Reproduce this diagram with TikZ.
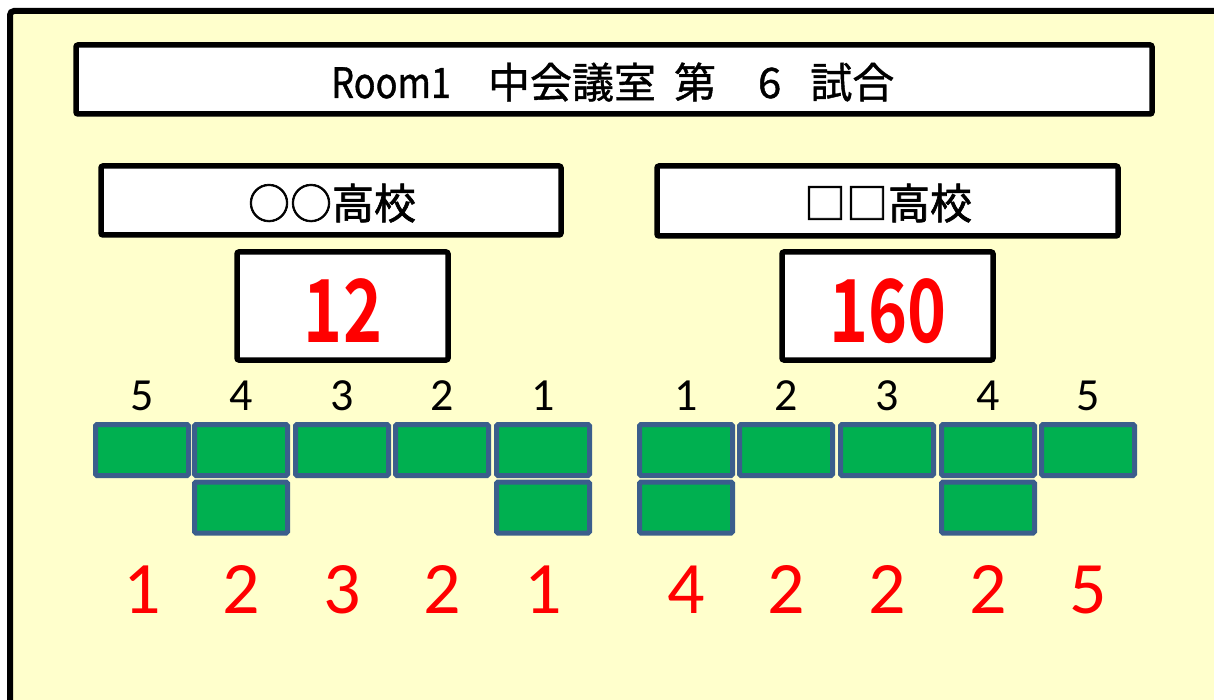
\documentclass[tikz,border=0pt]{standalone}
\usepackage{fontspec}
\setmainfont{Carlito}
\newfontfamily\jp[FakeBold=1]{Noto Sans CJK JP}
\newfontfamily\jpm[FakeBold=1.6]{Noto Sans CJK JP}
\newfontfamily\jpb{Noto Sans CJK JP Bold}
\definecolor{paper}{HTML}{FFFFCC}
\definecolor{seatfill}{HTML}{00B050}
\definecolor{seatline}{HTML}{3B5E8C}
\definecolor{scorered}{HTML}{FF0000}
\tikzset{
  whitebox/.style={draw=black, fill=white, line width=5.5pt, rounded corners=2pt, inner sep=0pt},
  seat/.style={draw=seatline, fill=seatfill, line width=5pt, rounded corners=1.5pt,
    minimum width=93pt, minimum height=51pt, inner sep=0pt},
  seatno/.style={anchor=base, font=\fontsize{46}{46}\selectfont, text=black, inner sep=0pt},
  pts/.style={anchor=base, font=\fontsize{74}{74}\selectfont, text=scorered, inner sep=0pt},
  jptext/.style={anchor=base, font=\jp\fontsize{42}{42}\selectfont, inner sep=0pt},
  schooltext/.style={anchor=base, font=\jpm\fontsize{42}{42}\selectfont, inner sep=0pt},
  total/.style={anchor=base, font=\jpb\fontsize{87}{87}\selectfont, text=scorered, inner sep=0pt}
}
\begin{document}
\begin{tikzpicture}[x=1pt,y=-1pt]
\useasboundingbox (0,0) rectangle (1214,700);
\clip (0,0) rectangle (1214,700);
% background frame
\draw[line width=6pt, fill=paper, rounded corners=4pt] (10,11) rectangle (1250,740);
% title
\node[whitebox, minimum width=1076pt, minimum height=69pt] (title) at (614,79.5) {};
\node[jptext, anchor=base west] (titletext) at (331,98) {\scalebox{0.86}[1]{Room1}\hspace{37pt}中会議室\hspace{18pt}第\hspace{42pt}6\hspace{29pt}試合};
% school boxes
\node[whitebox, minimum width=460pt, minimum height=69pt] (schoolA) at (331,200.5) {};
\node[schooltext] (schoolAtext) at (332,219) {○○高校};
\node[whitebox, minimum width=461pt, minimum height=70pt] (schoolB) at (887.5,201) {};
\node[schooltext] (schoolBtext) at (888,219) {□□高校};
% score boxes
\node[whitebox, minimum width=211pt, minimum height=108pt] (scoreA) at (342.5,306) {};
\node[total] (scoreAtext) at (343,342) {\scalebox{0.76}[1]{12}};
\node[whitebox, minimum width=211pt, minimum height=108pt] (scoreB) at (887.5,306) {};
\node[total] (scoreBtext) at (888,342) {\scalebox{0.76}[1]{160}};
% left seats
\foreach \x/\n/\p [count=\i] in {142/5/1, 241/4/2, 342/3/3, 442/2/2, 543/1/1}{
  \node[seatno] (la\i) at (\x,410) {\n};
  \node[seat] (ls\i) at (\x,450) {};
  \node[pts] (lp\i) at (\x,613) {\p};
}
\node[seat] (ls2b) at (241,507.5) {};
\node[seat] (ls5b) at (543,507.5) {};
% right seats
\foreach \x/\n/\p [count=\i] in {686/1/4, 786/2/2, 887/3/2, 988/4/2, 1088/5/5}{
  \node[seatno] (ra\i) at (\x,410) {\n};
  \node[seat] (rs\i) at (\x,450) {};
  \node[pts] (rp\i) at (\x,613) {\p};
}
\node[seat] (rs1b) at (686,507.5) {};
\node[seat] (rs4b) at (988,507.5) {};
\end{tikzpicture}
\end{document}
